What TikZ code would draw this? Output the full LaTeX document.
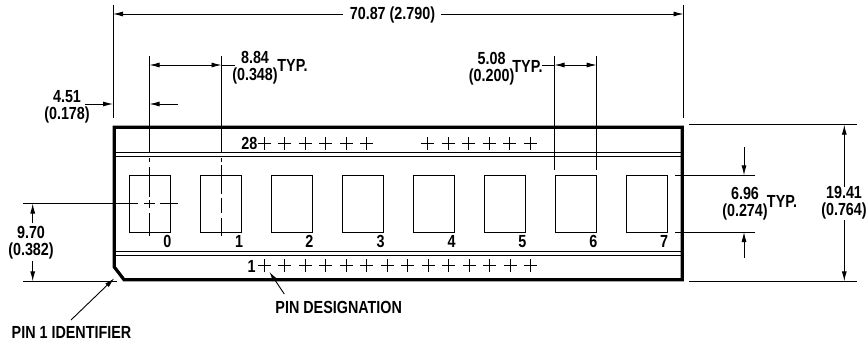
\documentclass[tikz,border=0pt]{standalone}
\usepackage{fontspec}
\setmainfont[FakeStretch=0.82]{Liberation Sans}
\usetikzlibrary{arrows.meta,shapes.misc}
\tikzset{
  dimtext/.style={inner sep=0pt, align=center, font=\bfseries\fontsize{17.5}{17}\selectfont},
  dimline/.style={line width=.9pt},
  dimarrow/.style={line width=.9pt, -{Latex[length=10pt,width=5pt]}},
  railline/.style={line width=1pt},
  window/.style={draw, line width=1pt, rectangle, inner sep=0pt, minimum width=41pt, minimum height=57pt},
  pinmark/.style={draw, cross out, rotate=45, inner sep=0pt, minimum size=8.5pt, line width=.7pt}
}
\begin{document}
\begin{tikzpicture}[x=1pt,y=-1pt]
\useasboundingbox (0,0) rectangle (868,345);
% outline
\coordinate (bx0) at (114.3,127.3);
\coordinate (bx1) at (682.3,127.3);
\coordinate (bx2) at (682.3,279.7);
\coordinate (bx3) at (124,279.7);
\coordinate (bx4) at (114.3,267);
\draw[line width=3.2pt](bx0) -- (bx1) -- (bx2) -- (bx3) -- (bx4) -- cycle;
% rails
\coordinate (ra0) at (114,152.2);
\coordinate (ra1) at (682,152.2);
\coordinate (rb0) at (114,156.8);
\coordinate (rb1) at (682,156.8);
\coordinate (rc0) at (114,251);
\coordinate (rc1) at (682,251);
\coordinate (rd0) at (114,255.7);
\coordinate (rd1) at (682,255.7);
\draw[railline](ra0) -- (ra1);
\draw[railline](rb0) -- (rb1);
\draw[railline](rc0) -- (rc1);
\draw[railline](rd0) -- (rd1);
% windows
\node[window] (win0) at (150.2,203.7){};
\node[window] (win1) at (221.1,203.7){};
\node[window] (win2) at (292.1,203.7){};
\node[window] (win3) at (363,203.7){};
\node[window] (win4) at (434,203.7){};
\node[window] (win5) at (504.9,203.7){};
\node[window] (win6) at (575.9,203.7){};
\node[window] (win7) at (646.8,203.7){};
\node[dimtext] (num0) at (167.3,241.5){0};
\node[dimtext] (num1) at (239,241.5){1};
\node[dimtext] (num2) at (309.3,241.5){2};
\node[dimtext] (num3) at (380.7,241.5){3};
\node[dimtext] (num4) at (451.7,241.5){4};
\node[dimtext] (num5) at (522.3,241.5){5};
\node[dimtext] (num6) at (593.3,241.5){6};
\node[dimtext] (num7) at (664,241.5){7};
% pins, upper row
\node[dimtext] (pinu) at (249.3,143.3){28};
\node[pinmark] (pu0) at (264.3,143.3){};
\node[pinmark] (pu1) at (284.8,143.3){};
\node[pinmark] (pu2) at (305.3,143.3){};
\node[pinmark] (pu3) at (325.8,143.3){};
\node[pinmark] (pu4) at (346.3,143.3){};
\node[pinmark] (pu5) at (366.8,143.3){};
\node[pinmark] (pu6) at (427.7,143.3){};
\node[pinmark] (pu7) at (448.2,143.3){};
\node[pinmark] (pu8) at (468.7,143.3){};
\node[pinmark] (pu9) at (489.2,143.3){};
\node[pinmark] (pu10) at (509.7,143.3){};
\node[pinmark] (pu11) at (530.2,143.3){};
% pins, lower row
\node[dimtext] (pinl) at (251.7,266){1};
\node[pinmark] (pl0) at (264.3,265.7){};
\node[pinmark] (pl1) at (284.8,265.7){};
\node[pinmark] (pl2) at (305.3,265.7){};
\node[pinmark] (pl3) at (325.8,265.7){};
\node[pinmark] (pl4) at (346.3,265.7){};
\node[pinmark] (pl5) at (366.8,265.7){};
\node[pinmark] (pl6) at (387.3,265.7){};
\node[pinmark] (pl7) at (407.8,265.7){};
\node[pinmark] (pl8) at (428.3,265.7){};
\node[pinmark] (pl9) at (448.8,265.7){};
\node[pinmark] (pl10) at (469.3,265.7){};
\node[pinmark] (pl11) at (489.8,265.7){};
\node[pinmark] (pl12) at (510.3,265.7){};
\node[pinmark] (pl13) at (530.8,265.7){};
% extension lines
\coordinate (ea0) at (113,5);
\coordinate (ea1) at (113,118);
\coordinate (eb0) at (683.5,5);
\coordinate (eb1) at (683.5,118);
\coordinate (ec0) at (149.5,56);
\coordinate (ec1) at (149.5,152);
\coordinate (ed0) at (221.5,56);
\coordinate (ed1) at (221.5,152);
\coordinate (ee0) at (554.5,56);
\coordinate (ee1) at (554.5,170);
\coordinate (ef0) at (596.7,56);
\coordinate (ef1) at (596.7,170);
\draw[dimline](ea0) -- (ea1);
\draw[dimline](eb0) -- (eb1);
\draw[dimline](ec0) -- (ec1);
\draw[dimline](ed0) -- (ed1);
\draw[dimline](ee0) -- (ee1);
\draw[dimline](ef0) -- (ef1);
% centre lines
\coordinate (ca0) at (149.5,158);
\coordinate (ca1) at (149.5,162);
\coordinate (ca2) at (149.5,166.7);
\coordinate (ca3) at (149.5,196.7);
\coordinate (ca4) at (149.5,200);
\coordinate (ca5) at (149.5,207.7);
\coordinate (ca6) at (149.5,213);
\coordinate (ca7) at (149.5,235.7);
\draw[dimline](ca0) -- (ca1);
\draw[dimline](ca2) -- (ca3);
\draw[dimline](ca4) -- (ca5);
\draw[dimline](ca6) -- (ca7);
\coordinate (cb0) at (221.5,158);
\coordinate (cb1) at (221.5,162);
\coordinate (cb2) at (221.5,165);
\coordinate (cb3) at (221.5,194);
\coordinate (cb4) at (221.5,198);
\coordinate (cb5) at (221.5,213);
\coordinate (cb6) at (221.5,218);
\coordinate (cb7) at (221.5,235.7);
\draw[dimline](cb0) -- (cb1);
\draw[dimline](cb2) -- (cb3);
\draw[dimline](cb4) -- (cb5);
\draw[dimline](cb6) -- (cb7);
\coordinate (cc0) at (23,203.3);
\coordinate (cc1) at (138.3,203.3);
\coordinate (cc2) at (144,203.3);
\coordinate (cc3) at (155,203.3);
\coordinate (cc4) at (160,203.3);
\coordinate (cc5) at (178,203.3);
\draw[dimline](cc0) -- (cc1);
\draw[dimline](cc2) -- (cc3);
\draw[dimline](cc4) -- (cc5);
% overall length
\node[dimtext] (lenlbl) at (392.5,15){70.87 (2.790)};
\coordinate (la) at (113,14);
\coordinate (lb) at (683.5,14);
\coordinate (lc) at (343,14);
\coordinate (ld) at (441,14);
\draw[dimarrow](lc) -- (la);
\draw[dimarrow](ld) -- (lb);
% window pitch
\node[dimtext] (pitlbl) at (255,68){8.84\\(0.348)};
\node[dimtext] (pittyp) at (292.5,65.7){TYP.};
\coordinate (pa) at (149.5,65);
\coordinate (pb) at (221.5,65);
\coordinate (pc) at (235,65);
\coordinate (pd) at (185,65);
\draw[dimarrow](pd) -- (pa);
\draw[dimarrow](pd) -- (pb);
\draw[dimline](pb) -- (pc);
% pin pitch
\node[dimtext] (pnlbl) at (491.7,69){5.08\\(0.200)};
\node[dimtext] (pntyp) at (527.5,66){TYP.};
\coordinate (qa) at (554.5,65);
\coordinate (qb) at (596.7,65);
\coordinate (qc) at (541.7,65);
\coordinate (qd) at (575.6,65);
\draw[dimarrow](qd) -- (qa);
\draw[dimarrow](qd) -- (qb);
\draw[dimline](qc) -- (qa);
% first pin offset
\node[dimtext] (oflbl) at (67,107){4.51\\(0.178)};
\coordinate (oa) at (85,104);
\coordinate (ob) at (113,104);
\coordinate (oc) at (178,104);
\coordinate (od) at (149.5,104);
\draw[dimarrow](oa) -- (ob);
\draw[dimarrow](oc) -- (od);
% centre height
\node[dimtext] (hclbl) at (31,243){9.70\\(0.382)};
\coordinate (ha) at (32.7,223);
\coordinate (hb) at (32.7,203.5);
\coordinate (hc) at (32.7,260.7);
\coordinate (hd) at (32.7,281.3);
\coordinate (he) at (23,281.3);
\coordinate (hf) at (117,281.3);
\draw[dimarrow](ha) -- (hb);
\draw[dimarrow](hc) -- (hd);
\draw[dimline](he) -- (hf);
% window height
\node[dimtext] (whlbl) at (745,203.5){6.96\\(0.274)};
\node[dimtext] (whtyp) at (782,201){TYP.};
\coordinate (wa) at (675,175.3);
\coordinate (wb) at (755,175.3);
\coordinate (wc) at (675,232);
\coordinate (wd) at (755,232);
\coordinate (we) at (744,147);
\coordinate (wf) at (744,175.3);
\coordinate (wg) at (744,257.7);
\coordinate (wh) at (744,232);
\draw[dimline](wa) -- (wb);
\draw[dimline](wc) -- (wd);
\draw[dimarrow](we) -- (wf);
\draw[dimarrow](wg) -- (wh);
% overall height
\node[dimtext] (ohlbl) at (844,202.5){19.41\\(0.764)};
\coordinate (ta) at (689,124.7);
\coordinate (tb) at (857,124.7);
\coordinate (tc) at (689,281.3);
\coordinate (td) at (857,281.3);
\coordinate (te) at (844.3,186.7);
\coordinate (tf) at (844.3,124.7);
\coordinate (tg) at (844.3,220);
\coordinate (th) at (844.3,281.3);
\draw[dimline](ta) -- (tb);
\draw[dimline](tc) -- (td);
\draw[dimarrow](te) -- (tf);
\draw[dimarrow](tg) -- (th);
% callouts
\node[dimtext] (idlbl) at (71.5,332){PIN 1 IDENTIFIER};
\coordinate (ia) at (71,320);
\coordinate (ib) at (114.3,278.3);
\draw[dimarrow](ia) -- (ib);
\node[dimtext] (dslbl) at (338.7,307){PIN DESIGNATION};
\coordinate (ja) at (284.3,294);
\coordinate (jb) at (269.3,271.7);
\draw[dimarrow](ja) -- (jb);
\end{tikzpicture}
\end{document}
